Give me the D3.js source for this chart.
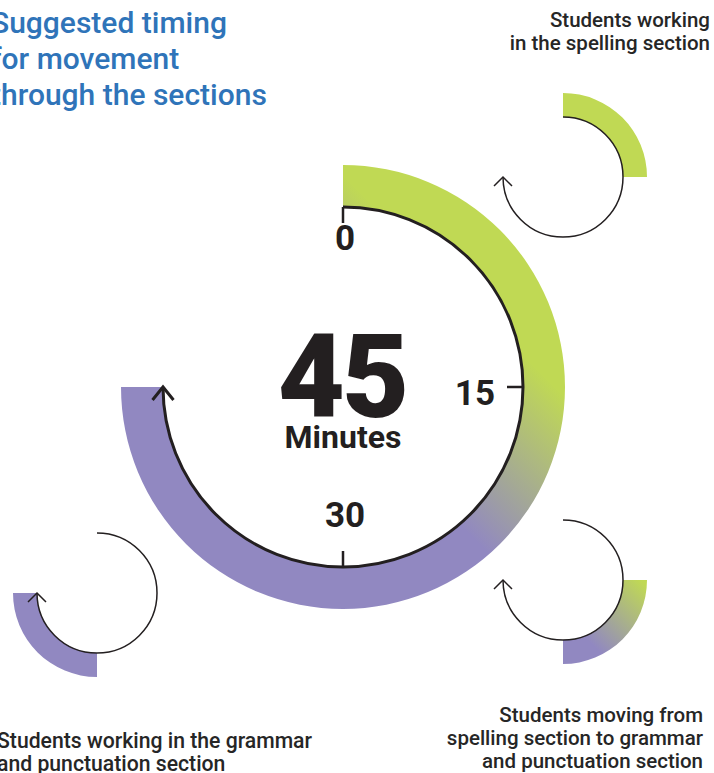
<!DOCTYPE html>
<html>
<head>
<meta charset="utf-8">
<script src="https://cdn.jsdelivr.net/npm/d3@7"></script>
<style>
  body { margin: 0; background: #fff; }
  svg { display: block; font-family: Roboto, "Noto Sans", sans-serif; }
</style>
</head>
<body>
<div id="chart"></div>
<script>
// Chart data
const titleLines = ["Suggested timing", "for movement", "through the sections"];
const totalMinutes = 45;
const tickMinutes = [0, 15, 30];
const tickLabels = ["0", "15", "30"];
const phaseStart = [0, 15, 30];
const phaseEnd = [15, 30, 45];
const phaseLabels = [
    ["Students working", "in the spelling section"],
    ["Students moving from", "spelling section to grammar", "and punctuation section"],
    ["Students working in the grammar", "and punctuation section"]
];

const colors = {
    green: '#c0d954',
    purple: '#9188c1',
    ink: '#231f20',
    blue: '#2f74b9',
    label: '#262626'
};

const width = 714;
const height = 773;

const svg = d3.select('#chart')
    .append('svg')
    .attr('width', width)
    .attr('height', height);

const defs = svg.append('defs');

// minutes -> angle (0 at 12 o'clock, clockwise, full clock = 60 min)
const angle = d3.scaleLinear().domain([0, 60]).range([0, 2 * Math.PI]);

// point on a circle for a clock angle
function polar(cx, cy, r, a) {
    return [cx + r * Math.sin(a), cy - r * Math.cos(a)];
}

// diagonal green -> purple gradient (upper right to lower left), local coords
function addGradient(id, s0, s1) {
    const k = Math.SQRT1_2;
    const g = defs.append('linearGradient')
        .attr('id', id)
        .attr('gradientUnits', 'userSpaceOnUse')
        .attr('x1', -s0 * k).attr('y1', s0 * k)
        .attr('x2', -s1 * k).attr('y2', s1 * k);
    g.append('stop').attr('offset', 0).attr('stop-color', colors.green);
    g.append('stop').attr('offset', 1).attr('stop-color', colors.purple);
}

// black arc line with arrow head at its end
function drawArrowArc(g, cx, cy, r, a0, a1, strokeWidth, headLen, headHalf) {
    const p = d3.path();
    p.arc(cx, cy, r, a0 - Math.PI / 2, a1 - Math.PI / 2);
    g.append('path')
        .attr('d', p.toString())
        .attr('fill', 'none')
        .attr('stroke', colors.ink)
        .attr('stroke-width', strokeWidth);

    const tip = polar(cx, cy, r, a1);
    const t = [Math.cos(a1), Math.sin(a1)];   // clockwise tangent
    const n = [-t[1], t[0]];
    const back = [tip[0] - t[0] * headLen, tip[1] - t[1] * headLen];
    g.append('path')
        .attr('d', d3.line()([
            [back[0] + n[0] * headHalf, back[1] + n[1] * headHalf],
            tip,
            [back[0] - n[0] * headHalf, back[1] - n[1] * headHalf]
        ]))
        .attr('fill', 'none')
        .attr('stroke', colors.ink)
        .attr('stroke-width', strokeWidth);
}

// Title
svg.append('text')
    .attr('y', 33)
    .attr('font-size', 30)
    .attr('font-weight', 500)
    .attr('fill', colors.blue)
    .selectAll('tspan')
    .data(titleLines)
    .enter()
    .append('tspan')
    .attr('x', -9)
    .attr('dy', (d, i) => i === 0 ? 0 : 36)
    .text(d => d);

// Main clock
const cx = 343, cy = 387;
const rIn = 180, rOut = 222;

addGradient('main-grad', -150, 15);

svg.append('path')
    .attr('transform', `translate(${cx},${cy})`)
    .attr('d', d3.arc()({
        innerRadius: rIn,
        outerRadius: rOut,
        startAngle: angle(0),
        endAngle: angle(totalMinutes)
    }))
    .attr('fill', 'url(#main-grad)');

const clock = svg.append('g');
drawArrowArc(clock, cx, cy, rIn, angle(0), angle(totalMinutes), 3, 13, 10.5);

// ticks pointing inwards
clock.selectAll('.tick')
    .data(tickMinutes)
    .enter()
    .append('line')
    .attr('class', 'tick')
    .attr('x1', d => polar(cx, cy, rIn, angle(d))[0])
    .attr('y1', d => polar(cx, cy, rIn, angle(d))[1])
    .attr('x2', d => polar(cx, cy, rIn - 16, angle(d))[0])
    .attr('y2', d => polar(cx, cy, rIn - 16, angle(d))[1])
    .attr('stroke', colors.ink)
    .attr('stroke-width', 2.5);

// tick labels, placed just inside the tick ends
function tickLabelPos(d) {
    const a = angle(d);
    const p = polar(cx, cy, rIn - 28, a);
    if (Math.abs(Math.sin(a)) > 0.5) return [p[0], p[1] + 18];   // side tick
    return Math.cos(a) > 0 ? [p[0] + 2, p[1] + 15] : [p[0] + 2, p[1] - 12];
}

clock.selectAll('.tick-label')
    .data(tickMinutes)
    .enter()
    .append('text')
    .attr('class', 'tick-label')
    .attr('x', d => tickLabelPos(d)[0])
    .attr('y', d => tickLabelPos(d)[1])
    .attr('text-anchor', d => Math.abs(Math.sin(angle(d))) > 0.5 ? 'end' : 'middle')
    .attr('font-size', 35)
    .attr('font-weight', 700)
    .attr('fill', colors.ink)
    .text((d, i) => tickLabels[i]);

// Centre value
clock.append('text')
    .attr('x', cx - 1)
    .attr('y', cy + 30)
    .attr('text-anchor', 'middle')
    .attr('font-size', 116)
    .attr('font-weight', 900)
    .attr('letter-spacing', -3)
    .attr('fill', colors.ink)
    .text(totalMinutes);

clock.append('text')
    .attr('x', cx)
    .attr('y', cy + 61)
    .attr('text-anchor', 'middle')
    .attr('font-size', 32)
    .attr('font-weight', 700)
    .attr('fill', colors.ink)
    .text('Minutes');

// Small phase icons
const iconCentres = [[563, 177], [563, 580], [97, 593]];
const iconIn = 60, iconOut = 84;

addGradient('icon-grad', -55, 25);

phaseStart.forEach((start, i) => {
    const [ix, iy] = iconCentres[i];
    const fill = i === 0 ? colors.green : i === 2 ? colors.purple : 'url(#icon-grad)';
    svg.append('path')
        .attr('transform', `translate(${ix},${iy})`)
        .attr('d', d3.arc()({
            innerRadius: iconIn,
            outerRadius: iconOut,
            startAngle: angle(start),
            endAngle: angle(phaseEnd[i])
        }))
        .attr('fill', fill);

    drawArrowArc(svg.append('g'), ix, iy, iconIn, angle(0), angle(totalMinutes), 1.5, 9, 9);
});

// Phase labels
const labelSpecs = [
    { x: 710, y: 27, anchor: 'end', size: 20.5 },
    { x: 703, y: 722, anchor: 'end', size: 20.5 },
    { x: -3, y: 748, anchor: 'start', size: 21.2 }
];

phaseLabels.forEach((lines, i) => {
    const s = labelSpecs[i];
    svg.append('text')
        .attr('y', s.y)
        .attr('text-anchor', s.anchor)
        .attr('font-size', s.size)
        .attr('font-weight', 500)
        .attr('fill', colors.label)
        .selectAll('tspan')
        .data(lines)
        .enter()
        .append('tspan')
        .attr('x', s.x)
        .attr('dy', (d, j) => j === 0 ? 0 : 23)
        .text(d => d);
});
</script>
</body>
</html>
